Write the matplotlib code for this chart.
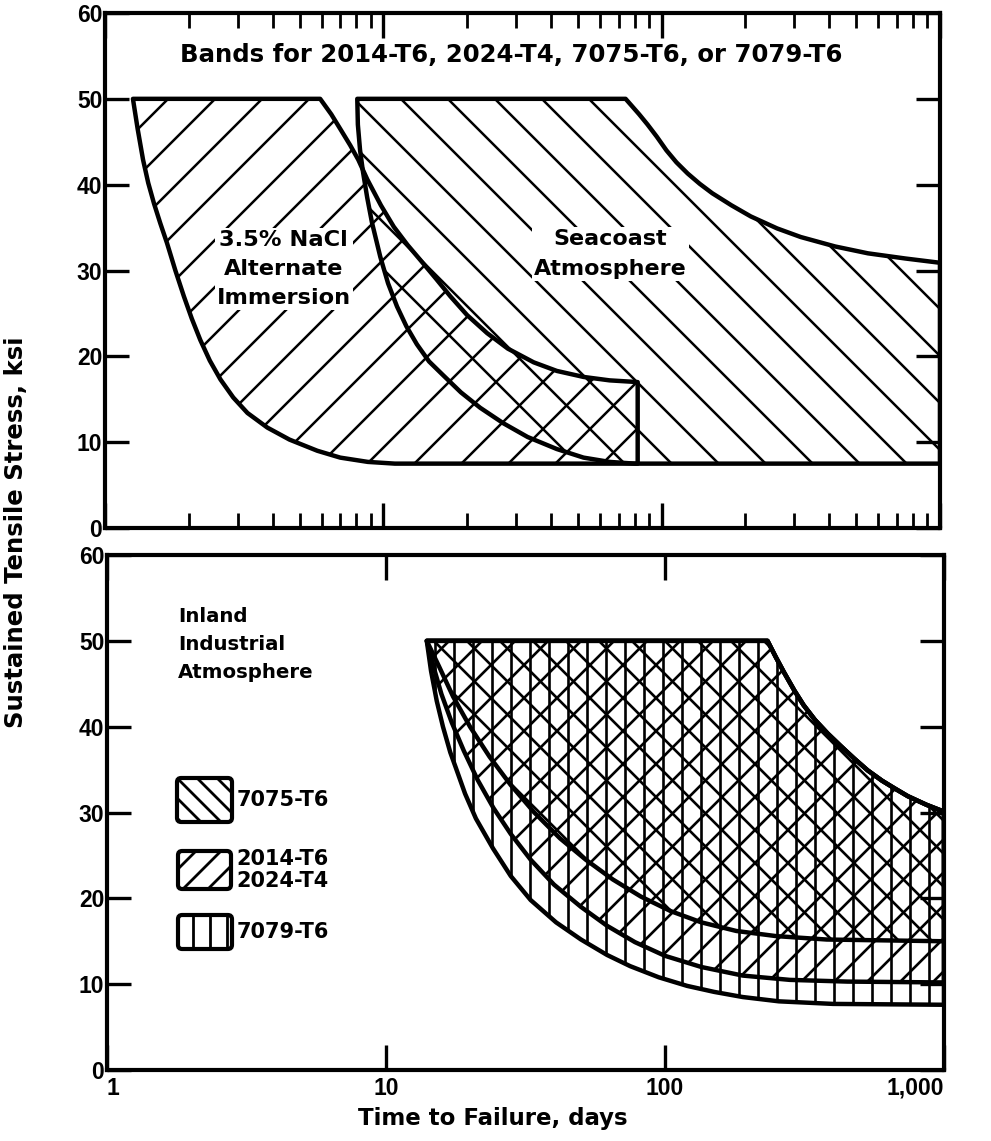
import numpy as np
import matplotlib
matplotlib.use("Agg")
import matplotlib.pyplot as plt
from matplotlib.patches import Polygon, FancyBboxPatch
from matplotlib.collections import LineCollection
from matplotlib.ticker import LogLocator, FixedLocator, NullLocator, NullFormatter, FixedFormatter

# ---------------- data: sustained stress (ksi) vs time to failure (days) ----------------
# upper panel: 3.5% NaCl alternate immersion band
nacl_left_days = [1.26, 1.31, 1.37, 1.43, 1.50, 1.58, 1.67, 1.79, 1.92, 2.05, 2.20, 2.38, 2.60,
                  2.89, 3.25, 3.83, 4.6, 5.79, 7.0, 8.8, 11.0]
nacl_left_ksi = [50, 46.5, 42.9, 40.2, 37.8, 35.5, 33.2, 30.0, 27.0, 24.4, 21.9, 19.5, 17.3,
                 15.2, 13.4, 11.7, 10.3, 9.0, 8.2, 7.7, 7.5]
nacl_right_days = [5.93, 6.5, 7.0, 7.6, 8.13, 8.76, 9.8, 10.9, 12.2, 13.6, 15.5, 17.4, 20, 23.6,
                   28, 34.7, 42, 52.4, 65, 82]
nacl_right_ksi = [50, 48.2, 46.5, 44.6, 42.9, 40.6, 37.6, 35.1, 33.0, 31.2, 29.0, 27.0, 24.8, 22.7,
                  20.9, 19.3, 18.3, 17.6, 17.2, 17.0]
nacl_floor_ksi = 7.5

# upper panel: seacoast atmosphere band
sea_left_days = [8.06, 8.10, 8.25, 8.45, 8.75, 9.1, 9.75, 10.4, 11.2, 12.1, 13.2, 14.6, 16.4, 19.0,
                 22.3, 27, 33, 42, 52.4, 65, 80]
sea_left_ksi = [50, 47.0, 44.0, 41.5, 38.5, 35.6, 31.6, 28.5, 25.8, 23.5, 21.4, 19.4, 17.8, 15.8,
                14.0, 12.2, 10.6, 9.2, 8.2, 7.7, 7.5]
sea_right_days = [74.2, 78, 83, 89, 96, 104, 113, 124, 137, 152, 178, 209, 260, 316, 420, 551, 750, 1000]
sea_right_ksi = [50, 49.2, 48.2, 47.0, 45.6, 44.0, 42.6, 41.3, 40.1, 39.0, 37.6, 36.3, 34.9, 33.9,
                 32.8, 32.0, 31.4, 30.9]
sea_floor_ksi = 7.5

# lower panel: inland industrial atmosphere, common upper boundary
rim_days = [14, 233, 249.6, 267.3, 291, 314, 344.5, 383, 424.6, 476, 533, 600, 666, 742, 865, 1000]
rim_ksi = [50, 50, 48.1, 46.3, 44.2, 42.5, 40.8, 39.2, 37.8, 36.3, 34.9, 33.7, 32.8, 31.9, 30.9, 30.1]
# lower boundaries of each alloy band
a7079_days = [14, 14.5, 15.2, 16.0, 17.0, 17.8, 19.2, 21, 24.2, 28, 33, 40.7, 50, 62, 75, 95, 120,
              150, 190, 256, 400, 1000]
a7079_ksi = [50, 46.5, 43, 40, 37, 35.2, 32.2, 29.3, 25.8, 22.6, 19.8, 17.2, 15.2, 13.4, 12.1, 10.8,
             9.8, 9.1, 8.5, 8.0, 7.7, 7.6]
a2014_days = [14, 14.8, 15.8, 17.2, 19, 21.3, 24.3, 28, 33, 40, 50, 62, 78, 100, 135, 190, 280, 450, 1000]
a2014_ksi = [50, 47.0, 43.8, 40.5, 37.2, 33.8, 30.5, 27.5, 24.5, 21.6, 19.0, 16.8, 14.9, 13.3, 12.0,
             11.0, 10.5, 10.3, 10.2]
a7075_days = [14, 15.5, 17.4, 20, 23.5, 28, 34, 42, 52, 65, 82, 105, 135, 180, 250, 380, 1000]
a7075_ksi = [50, 47, 43.5, 40, 36.5, 33.2, 30, 27, 24.5, 22.2, 20.2, 18.5, 17.2, 16.2, 15.6, 15.2, 15.0]

x_tick_values = [1, 10, 100, 1000]
x_tick_labels = ["1", "10", "100", "1,000"]
y_tick_values = [0, 10, 20, 30, 40, 50, 60]

# ---------------- styling ----------------
FIG_W, FIG_H, DPI = 9.91, 11.41, 100
TEXT_FONT = ["DejaVu Sans"]
TICK_FONT = ["Liberation Sans Narrow", "Liberation Sans", "DejaVu Sans"]
OUTLINE_LW = 3.2
SPINE_LW = 3.0

fig = plt.figure(figsize=(FIG_W, FIG_H), dpi=DPI)
fig.patch.set_facecolor("white")

ax_top = fig.add_axes([105 / 991, 1 - 528 / 1141, 835 / 991, 515 / 1141])
ax_bot = fig.add_axes([107 / 991, 1 - 1070 / 1141, 837 / 991, 515 / 1141])


def axes_px(ax):
    bb = ax.get_position()
    return bb.width * FIG_W * DPI, bb.height * FIG_H * DPI


def add_hatch(ax, clip, kind, step, lw, offset=0.0, zorder=2):
    """Evenly spaced hatch lines (spacing in pixels) clipped to a patch."""
    W, H = axes_px(ax)
    segs = []
    if kind == "|":
        lo, hi = 0, W
    elif kind == "/":
        lo, hi = -H, W
    else:
        lo, hi = 0, W + H
    k0 = int(np.floor((lo - offset) / step)) - 1
    k1 = int(np.ceil((hi - offset) / step)) + 1
    for k in range(k0, k1 + 1):
        c = offset + k * step
        if kind == "|":
            segs.append([(c / W, 0), (c / W, 1)])
        elif kind == "/":
            segs.append([(c / W, 0), ((c + H) / W, 1)])
        else:
            segs.append([(c / W, 0), ((c - H) / W, 1)])
    lc = LineCollection(segs, colors="black", linewidths=lw,
                        transform=ax.transAxes, zorder=zorder, capstyle="butt")
    ax.add_collection(lc, autolim=False)
    lc.set_clip_path(clip)
    return lc


def band(ax, verts, lw=OUTLINE_LW):
    p = Polygon(verts, closed=True, facecolor="none", edgecolor="black",
                linewidth=lw, joinstyle="round", zorder=4)
    ax.add_patch(p)
    return p


def style_axes(ax):
    ax.set_xscale("log")
    ax.set_xlim(1, 1000)
    ax.set_ylim(0, 60)
    for s in ax.spines.values():
        s.set_linewidth(SPINE_LW)
        s.set_zorder(6)
    ax.yaxis.set_major_locator(FixedLocator(y_tick_values))
    ax.yaxis.set_minor_locator(NullLocator())
    ax.tick_params(axis="y", which="major", direction="in", length=17, width=2.4,
                   left=True, right=True, labelleft=True, pad=2)
    for lab in ax.get_yticklabels():
        lab.set_fontfamily(TICK_FONT)
        lab.set_fontweight("bold")
        lab.set_fontsize(16.5)


# ---------------- upper panel ----------------
style_axes(ax_top)
ax_top.xaxis.set_major_locator(LogLocator(base=10))
ax_top.xaxis.set_minor_locator(LogLocator(base=10, subs=np.arange(2, 10)))
ax_top.xaxis.set_major_formatter(NullFormatter())
ax_top.xaxis.set_minor_formatter(NullFormatter())
ax_top.tick_params(axis="x", which="major", direction="in", length=18, width=2.4,
                   top=True, bottom=True, labelbottom=False)
ax_top.tick_params(axis="x", which="minor", direction="in", length=11, width=2.0,
                   top=True, bottom=True)

nacl_verts = (list(zip(nacl_right_days, nacl_right_ksi))
              + [(nacl_right_days[-1], nacl_floor_ksi)]
              + list(zip(nacl_left_days[::-1], nacl_left_ksi[::-1])))
nacl_patch = band(ax_top, nacl_verts)
add_hatch(ax_top, nacl_patch, "/", 47, 1.8, offset=10)

sea_verts = (list(zip(sea_right_days, sea_right_ksi))
             + [(sea_right_days[-1], sea_floor_ksi)]
             + list(zip(sea_left_days[::-1], sea_left_ksi[::-1])))
sea_patch = band(ax_top, sea_verts)
add_hatch(ax_top, sea_patch, "\\", 47, 1.8, offset=20)

ax_top.text(0.487, 0.918, "Bands for 2014-T6, 2024-T4, 7075-T6, or 7079-T6",
            transform=ax_top.transAxes, ha="center", va="center",
            fontsize=17.6, fontweight="bold", family=TEXT_FONT, zorder=7)
box_white = dict(facecolor="white", edgecolor="none", pad=1.5)
ax_top.text(0.214, 0.503, "3.5% NaCl\nAlternate\nImmersion",
            transform=ax_top.transAxes, ha="center", va="center", linespacing=1.58,
            fontsize=16.2, fontweight="bold", family=TEXT_FONT, zorder=5, bbox=box_white)
ax_top.text(0.605, 0.532, "Seacoast\nAtmosphere",
            transform=ax_top.transAxes, ha="center", va="center", linespacing=1.65,
            fontsize=16, fontweight="bold", family=TEXT_FONT, zorder=5, bbox=box_white)

# ---------------- lower panel ----------------
style_axes(ax_bot)
ax_bot.xaxis.set_major_locator(FixedLocator(x_tick_values))
ax_bot.xaxis.set_major_formatter(FixedFormatter(x_tick_labels))
ax_bot.xaxis.set_minor_locator(NullLocator())
ax_bot.tick_params(axis="x", which="major", direction="in", length=18, width=2.4,
                   top=True, bottom=True, pad=5)
xlabs = ax_bot.get_xticklabels()
for lab in xlabs:
    lab.set_fontfamily(TICK_FONT)
    lab.set_fontweight("bold")
    lab.set_fontsize(16.5)
xlabs[0].set_horizontalalignment("left")
xlabs[-1].set_horizontalalignment("right")

rim = list(zip(rim_days, rim_ksi))
p7079 = band(ax_bot, rim + list(zip(a7079_days[::-1], a7079_ksi[::-1])))
p2014 = band(ax_bot, rim + list(zip(a2014_days[::-1], a2014_ksi[::-1])))
p7075 = band(ax_bot, rim + list(zip(a7075_days[::-1], a7075_ksi[::-1])))
add_hatch(ax_bot, p7079, "|", 19, 1.9, offset=5)
add_hatch(ax_bot, p2014, "/", 33, 1.9, offset=12)
add_hatch(ax_bot, p7075, "\\", 33, 1.9, offset=30)

ax_bot.text(0.085, 0.9, "Inland\nIndustrial\nAtmosphere",
            transform=ax_bot.transAxes, ha="left", va="top", linespacing=1.6,
            fontsize=14.2, fontweight="bold", family=TEXT_FONT, zorder=5)


# legend swatches (pixel boxes inside the lower panel)
def px_to_ax(x, y):
    return (x - 107) / 837, (1070 - y) / 515


legend_items = [
    ((177, 778, 232, 822), "\\", 20, "7075-T6"),
    ((178, 851, 231, 889), "/", 25, "2014-T6\n2024-T4"),
    ((178, 915, 232, 949), "|", 17, "7079-T6"),
]
for (x0, y0, x1, y1), kind, step, label in legend_items:
    ax0, ay1 = px_to_ax(x0, y0)
    ax1_, ay0 = px_to_ax(x1, y1)
    box = FancyBboxPatch((ax0, ay0), ax1_ - ax0, ay1 - ay0,
                         boxstyle="round,pad=0,rounding_size=0.005",
                         mutation_aspect=837 / 515, transform=ax_bot.transAxes,
                         facecolor="white", edgecolor="black", linewidth=3.0, zorder=4)
    ax_bot.add_patch(box)
    u0 = x0 - 107
    v_top, v_bot = 1070 - y0, 1070 - y1
    if kind == "\\":
        off = u0 + v_top
    elif kind == "/":
        off = u0 + 5 - v_bot
    else:
        off = u0 + 15
    add_hatch(ax_bot, box, kind, step, 2.0, offset=off, zorder=5)
    ax_bot.text((x1 + 5 - 107) / 837, (1070 - (y0 + y1) / 2) / 515, label,
                transform=ax_bot.transAxes, ha="left", va="center", linespacing=1.1,
                fontsize=15, fontweight="bold", family=TEXT_FONT, zorder=5)

# ---------------- axis titles ----------------
fig.text(493 / 991, 1 - 1118 / 1141, "Time to Failure, days", ha="center", va="center",
         fontsize=16.5, fontweight="bold", family=TEXT_FONT)
fig.text(16 / 991, 1 - 532 / 1141, "Sustained Tensile Stress, ksi", ha="center", va="center",
         rotation=90, fontsize=17.6, fontweight="bold", family=TEXT_FONT)

fig.savefig("out.png", dpi=DPI, facecolor="white")
